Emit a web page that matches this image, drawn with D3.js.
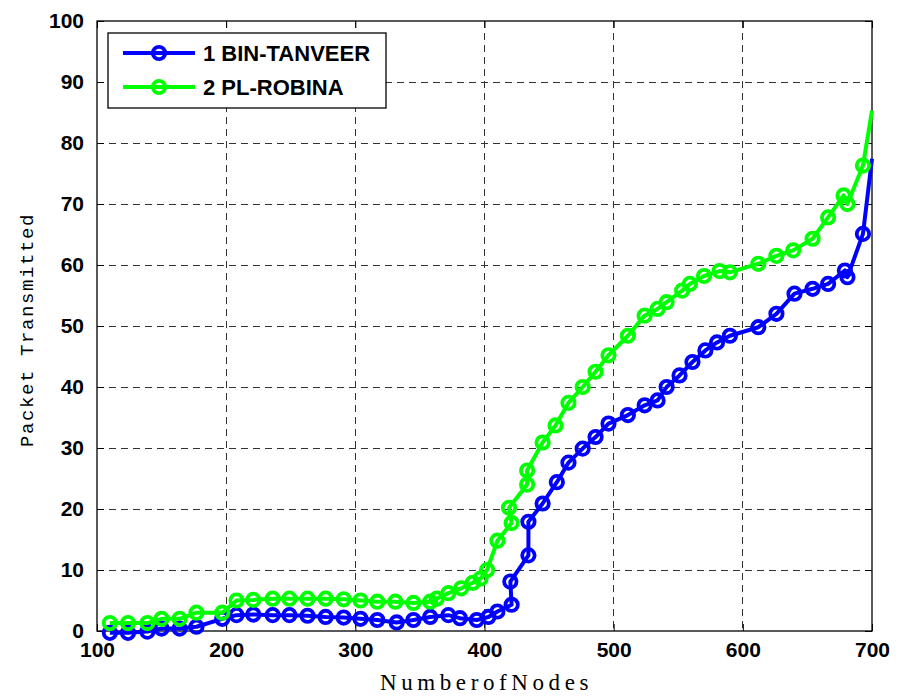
<!DOCTYPE html>
<html>
<head>
<meta charset="utf-8">
<script src="https://cdn.jsdelivr.net/npm/d3@7"></script>
<style>
  html, body { margin: 0; padding: 0; background: #fff; }
  svg { display: block; }
</style>
</head>
<body>
<svg id="chart" width="898" height="698"></svg>
<script>
// Series 1: BIN-TANVEER
const binNodes = [110,124,139,150,164,177,197,208,221,236,249,263,277,291,304,317,332,345,358,372,381,394,403,410,421,420,434,434,445,456,465,476,486,496,511,524,534,541,551,561,571,580,590,612,626,640,654,666,679,681,693,700];
const binValues = [-0.3,-0.3,-0.1,0.4,0.4,0.7,2.0,2.6,2.7,2.6,2.6,2.5,2.3,2.2,2.0,1.8,1.4,1.8,2.3,2.6,2.1,1.8,2.3,3.2,4.3,8.1,12.4,17.9,20.9,24.4,27.6,29.9,31.8,34.0,35.4,37.0,37.8,40.0,41.9,44.1,46.0,47.3,48.4,49.8,52.0,55.3,56.1,56.9,59.1,58.0,65.1,77.4];

// Series 2: PL-ROBINA
const plNodes = [110,124,139,150,164,177,197,208,221,236,249,263,277,291,304,317,331,345,358,363,372,382,391,397,402,410,421,419,433,433,445,455,465,476,486,496,511,524,534,541,553,559,570,582,590,612,626,639,654,666,678,681,693,700];
const plValues = [1.3,1.3,1.3,2.0,2.0,3.0,3.0,5.0,5.1,5.3,5.3,5.3,5.3,5.2,5.0,4.8,4.8,4.6,4.8,5.3,6.2,7.0,7.9,8.6,10.0,14.8,17.7,20.2,24.0,26.3,30.9,33.7,37.4,40.0,42.5,45.2,48.4,51.7,52.8,53.9,55.8,56.9,58.2,59.0,58.8,60.2,61.5,62.4,64.3,67.8,71.4,70.0,76.3,85.3];

const seriesNames = ["1 BIN-TANVEER", "2 PL-ROBINA"];
const seriesColors = ["#0000ff", "#00ff00"];

const xTicks = [100,200,300,400,500,600,700];
const yTicks = [0,10,20,30,40,50,60,70,80,90,100];

const xTitle = "NumberofNodes";
const yTitle = "Packet Transmitted";

const svg = d3.select("#chart");
const L = 97, R = 872, T = 21, B = 631;

const x = d3.scaleLinear().domain([100, 700]).range([L, R]);
const y = d3.scaleLinear().domain([0, 100]).range([B, T]);

// dashed grid on interior ticks
const grid = svg.append("g").attr("stroke", "#333").attr("stroke-width", 1)
  .attr("stroke-dasharray", "7,5").attr("shape-rendering", "crispEdges");
grid.selectAll(".gx").data(xTicks.slice(1, -1)).join("line")
  .attr("x1", d => x(d)).attr("x2", d => x(d)).attr("y1", T).attr("y2", B);
grid.selectAll(".gy").data(yTicks.slice(1, -1)).join("line")
  .attr("y1", d => y(d)).attr("y2", d => y(d)).attr("x1", L).attr("x2", R);

// axes with inward ticks on all four sides
const tickFont = "bold 21px 'Liberation Sans', Arial, sans-serif";
const gxB = svg.append("g").attr("transform", `translate(0,${B})`)
  .call(d3.axisBottom(x).tickValues(xTicks).tickSize(-7).tickPadding(11).tickFormat(d3.format("d")));
const gyL = svg.append("g").attr("transform", `translate(${L},0)`)
  .call(d3.axisLeft(y).tickValues(yTicks).tickSize(-7).tickPadding(13).tickFormat(d3.format("d")));
const gxT = svg.append("g").attr("transform", `translate(0,${T})`)
  .call(d3.axisTop(x).tickValues(xTicks).tickSize(-7).tickFormat(""));
const gyR = svg.append("g").attr("transform", `translate(${R},0)`)
  .call(d3.axisRight(y).tickValues(yTicks).tickSize(-7).tickFormat(""));
[gxB, gyL, gxT, gyR].forEach(g => {
  g.selectAll("path").remove();
  g.selectAll("line").attr("stroke", "#000").attr("stroke-width", 1);
  g.selectAll("text").style("font", tickFont).attr("fill", "#000");
});

// axes box
svg.append("rect").attr("x", L).attr("y", T).attr("width", R - L).attr("height", B - T)
  .attr("fill", "none").attr("stroke", "#000").attr("stroke-width", 1.3);

// series lines and open circle markers
const line = d3.line().x(d => x(d[0])).y(d => y(d[1]));
const series = [
  d3.zip(binNodes, binValues),
  d3.zip(plNodes, plValues)
];
series.forEach((pts, i) => {
  const g = svg.append("g");
  g.append("path").datum(pts).attr("d", line)
    .attr("fill", "none").attr("stroke", seriesColors[i])
    .attr("stroke-width", 4).attr("stroke-linejoin", "round");
  g.selectAll("circle").data(pts.slice(0, -1)).join("circle")
    .attr("cx", d => x(d[0])).attr("cy", d => y(d[1])).attr("r", 6.2)
    .attr("fill", "none").attr("stroke", seriesColors[i]).attr("stroke-width", 3.8);
});

// legend
const lg = svg.append("g");
lg.append("rect").attr("x", 108).attr("y", 33).attr("width", 278).attr("height", 75)
  .attr("fill", "#fff").attr("stroke", "#000").attr("stroke-width", 1.3);
seriesNames.forEach((name, i) => {
  const ly = 53 + i * 34;
  lg.append("line").attr("x1", 123).attr("x2", 195).attr("y1", ly).attr("y2", ly)
    .attr("stroke", seriesColors[i]).attr("stroke-width", 4);
  lg.append("circle").attr("cx", 159).attr("cy", ly).attr("r", 6.2)
    .attr("fill", "none").attr("stroke", seriesColors[i]).attr("stroke-width", 3.8);
  lg.append("text").attr("x", 203).attr("y", ly).attr("dy", "0.36em")
    .style("font", "bold 22px 'Liberation Sans', Arial, sans-serif").attr("fill", "#000")
    .text(name);
});

// axis titles
svg.append("text").attr("x", 484 + 2.5).attr("y", 690).attr("text-anchor", "middle")
  .style("font-family", "'Liberation Serif', 'Times New Roman', serif").style("font-size", "23px")
  .style("letter-spacing", "4.6px").attr("fill", "#000").text(xTitle);
svg.append("text").attr("transform", "translate(33,330) rotate(-90)").attr("text-anchor", "middle")
  .style("font-family", "'Liberation Mono', 'Courier New', monospace").style("font-size", "19px")
  .style("letter-spacing", "1.6px").attr("fill", "#000").text(yTitle);
</script>
</body>
</html>
